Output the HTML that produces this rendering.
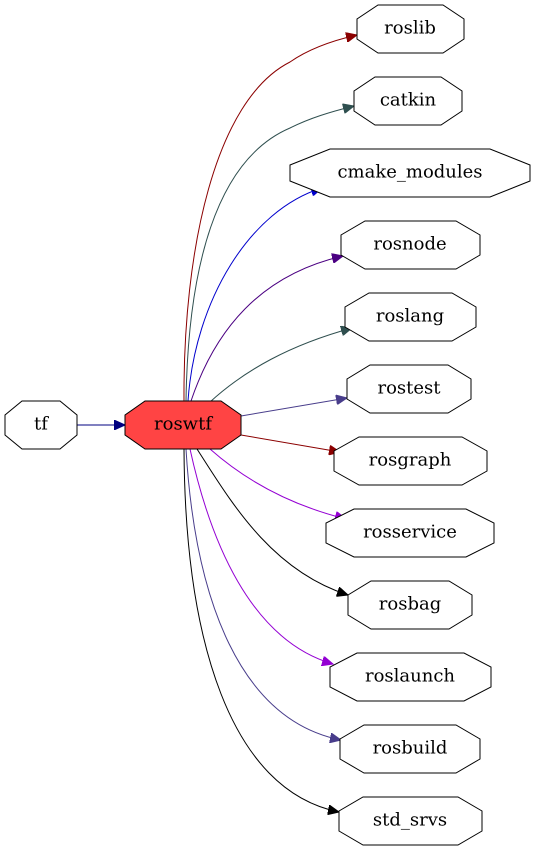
<!DOCTYPE html>
<html><head><meta charset="utf-8"><style>
html,body{margin:0;padding:0;background:#fff;}
svg{display:block;}
text{font-family:"DejaVu Serif","Liberation Serif",serif;font-size:18px;text-anchor:middle;dominant-baseline:central;fill:#000;}
</style></head><body>
<svg width="537" height="851" viewBox="0 0 537 851" xmlns="http://www.w3.org/2000/svg">
<defs>
<marker id="m-navy" markerUnits="userSpaceOnUse" markerWidth="12" markerHeight="10" refX="11" refY="5" orient="auto"><path d="M0,0 L11,5 L0,10z" fill="#000080" stroke="#000080"/></marker>
<marker id="m-dr" markerUnits="userSpaceOnUse" markerWidth="12" markerHeight="10" refX="11" refY="5" orient="auto"><path d="M0,0 L11,5 L0,10z" fill="#8b0000" stroke="#8b0000"/></marker>
<marker id="m-dsg" markerUnits="userSpaceOnUse" markerWidth="12" markerHeight="10" refX="11" refY="5" orient="auto"><path d="M0,0 L11,5 L0,10z" fill="#2f4f4f" stroke="#2f4f4f"/></marker>
<marker id="m-mb" markerUnits="userSpaceOnUse" markerWidth="12" markerHeight="10" refX="11" refY="5" orient="auto"><path d="M0,0 L11,5 L0,10z" fill="#0000cd" stroke="#0000cd"/></marker>
<marker id="m-ind" markerUnits="userSpaceOnUse" markerWidth="12" markerHeight="10" refX="11" refY="5" orient="auto"><path d="M0,0 L11,5 L0,10z" fill="#4b0082" stroke="#4b0082"/></marker>
<marker id="m-dsb" markerUnits="userSpaceOnUse" markerWidth="12" markerHeight="10" refX="11" refY="5" orient="auto"><path d="M0,0 L11,5 L0,10z" fill="#483d8b" stroke="#483d8b"/></marker>
<marker id="m-dv" markerUnits="userSpaceOnUse" markerWidth="12" markerHeight="10" refX="11" refY="5" orient="auto"><path d="M0,0 L11,5 L0,10z" fill="#9400d3" stroke="#9400d3"/></marker>
<marker id="m-bk" markerUnits="userSpaceOnUse" markerWidth="12" markerHeight="10" refX="11" refY="5" orient="auto"><path d="M0,0 L11,5 L0,10z" fill="#000" stroke="#000"/></marker>
</defs>
<g fill="none" stroke-width="1">
<path d="M77,425 L125,425" stroke="#000080" marker-end="url(#m-navy)"/>
<path d="M184,401 C183,250 215,100 290,62 C310,48 335,40 357,35" stroke="#8b0000" marker-end="url(#m-dr)"/>
<path d="M186,401 C188,270 215,160 290,128 C310,118 330,112 354,106" stroke="#2f4f4f" marker-end="url(#m-dsg)"/>
<path d="M188,401 C195,300 250,210 322,188" stroke="#0000cd" marker-end="url(#m-mb)"/>
<path d="M191,401 C215,330 260,275 343,256" stroke="#4b0082" marker-end="url(#m-ind)"/>
<path d="M210,402 C245,370 290,345 352,328" stroke="#2f4f4f" marker-end="url(#m-dsg)"/>
<path d="M241,416 L347,398" stroke="#483d8b" marker-end="url(#m-dsb)"/>
<path d="M241,435 L340,452" stroke="#8b0000" marker-end="url(#m-dr)"/>
<path d="M210,449 C245,480 290,505 346,519" stroke="#9400d3" marker-end="url(#m-dv)"/>
<path d="M197,449 C230,500 270,570 348,595" stroke="#000" marker-end="url(#m-bk)"/>
<path d="M190,449 C210,540 250,640 333,664" stroke="#9400d3" marker-end="url(#m-dv)"/>
<path d="M186,449 C195,600 240,720 341,740" stroke="#483d8b" marker-end="url(#m-dsb)"/>
<path d="M184,449 C185,640 230,790 339,812" stroke="#000" marker-end="url(#m-bk)"/>
</g>
<g stroke="#000" fill="#fff">
<polygon points="22,401 60,401 77,415 77,435 60,449 22,449 5,435 5,415"/>
<polygon fill="#ff4444" points="145,401 221,401 241,415 241,435 221,449 145,449 125,435 125,415"/>
<polygon points="378,5 443,5 464,19 464,39 443,53 378,53 357,39 357,19"/>
<polygon points="375,77 441,77 462,91 462,111 441,125 375,125 354,111 354,91"/>
<polygon points="330,149 490,149 530,165 530,181 490,197 330,197 290,181 290,165"/>
<polygon points="365,221 456,221 480,235 480,255 456,269 365,269 341,255 341,235"/>
<polygon points="369,293 452,293 476,307 476,327 452,341 369,341 345,327 345,307"/>
<polygon points="370,365 448,365 471,379 471,399 448,413 370,413 347,399 347,379"/>
<polygon points="359,437 462,437 487,451 487,471 462,485 359,485 334,471 334,451"/>
<polygon points="354,509 466,509 494,523 494,543 466,557 354,557 326,543 326,523"/>
<polygon points="371,581 449,581 472,595 472,615 449,629 371,629 348,615 348,595"/>
<polygon points="357,653 464,653 491,667 491,687 464,701 357,701 330,687 330,667"/>
<polygon points="364,725 456,725 480,739 480,759 456,773 364,773 340,759 340,739"/>
<polygon points="363,797 458,797 482,811 482,831 458,845 363,845 339,831 339,811"/>
</g>
<text x="41" y="424">tf</text>
<text x="183" y="424">roswtf</text>
<text x="410" y="28">roslib</text>
<text x="408" y="100">catkin</text>
<text x="410" y="172">cmake_modules</text>
<text x="410" y="244">rosnode</text>
<text x="410" y="316">roslang</text>
<text x="409" y="388">rostest</text>
<text x="410" y="460">rosgraph</text>
<text x="410" y="532">rosservice</text>
<text x="410" y="604">rosbag</text>
<text x="410" y="676">roslaunch</text>
<text x="410" y="748">rosbuild</text>
<text x="410" y="820">std_srvs</text>
</svg>
</body></html>
